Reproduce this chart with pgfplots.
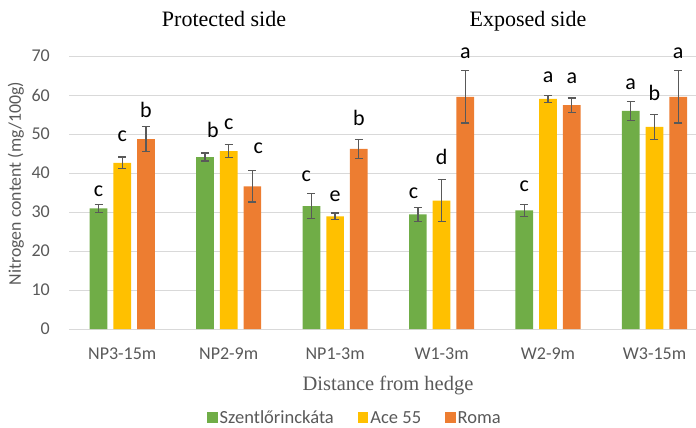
\documentclass[border=0pt]{standalone}
\usepackage{fontspec}
\setmainfont{Liberation Serif}
\newfontfamily\carlito{Carlito}
\usepackage{pgfplots}
\usepackage{pgfplotstable}
\pgfplotsset{compat=1.18}
\definecolor{cGreen}{HTML}{70AD47}
\definecolor{cYellow}{HTML}{FFC000}
\definecolor{cOrange}{HTML}{ED7D31}
\definecolor{cGrid}{HTML}{D9D9D9}
\definecolor{cText}{HTML}{595959}
\definecolor{cErr}{HTML}{595959}

\pgfplotstableread{
x y err
0 30.9 0.95
1 44.1 1.0
2 31.5 3.2
3 29.4 1.8
4 30.4 1.6
5 55.9 2.4
}\green
\pgfplotstableread{
x y err
0 42.6 1.5
1 45.6 1.7
2 28.9 0.85
3 32.9 5.4
4 59.0 0.95
5 51.8 3.2
}\yellow
\pgfplotstableread{
x y err
0 48.7 3.2
1 36.6 4.0
2 46.2 2.4
3 59.5 6.7
4 57.4 1.8
5 59.5 6.7
}\orange
\pgfplotstableread{
x y lab
-0.223 34.1 c
0 48.2 c
0.223 54.2 b
0.852 49.1 b
1 51.2 c
1.279 45.0 c
1.730 37.8 c
2 32.6 e
2.223 52.3 b
2.737 33.4 c
3 42.2 d
3.223 69.4 a
3.777 35.2 c
4 63.3 a
4.223 63.0 a
4.777 61.5 a
5 58.5 b
5.223 69.4 a
}\labels

\pgfplotsset{
  errstyle/.style={error bars/.cd, y dir=both, y explicit,
    error bar style={draw=cErr, line width=1.3bp},
    error mark options={draw=cErr, rotate=90, mark size=4bp, line width=1.3bp}},
}

\begin{document}
\begin{tikzpicture}
\useasboundingbox (0,0) rectangle (696bp,428bp);
\begin{axis}[
  at={(69bp,99bp)}, anchor=south west,
  scale only axis, width=627bp, height=273bp,
  xmin=-0.5, xmax=5.39, ymin=0, ymax=70,
  ytick={0,10,...,70},
  xtick={0,1,2,3,4,5},
  xticklabels={NP3-15m,NP2-9m,NP1-3m,W1-3m,W2-9m,W3-15m},
  major tick length=0pt,
  axis lines*=left,
  y axis line style={draw=none},
  x axis line style={draw=cGrid, line width=1bp, -},
  ymajorgrids, grid style={draw=cGrid, line width=1bp},
  /pgf/number format/assume math mode=true,
  tick label style={font=\carlito\fontsize{18bp}{18bp}\selectfont, text=cText},
  yticklabel style={anchor=east, inner sep=0pt, xshift=-19bp},
  xticklabel style={anchor=base, inner sep=0pt, yshift=-30bp},
  clip=false,
  legend style={at={(0.456,-0.326)}, anchor=center, draw=none, fill=none,
    legend columns=3, font=\carlito\fontsize{18.5bp}{18.5bp}\selectfont, text=cText,
    /tikz/every even column/.append style={column sep=22bp},
    inner sep=0pt},
  legend image code/.code={\fill[#1] (0bp,-5.5bp) rectangle (10.6bp,5.5bp);},
]
\addplot[ybar, bar width=17.7bp, bar shift=0bp, fill=cGreen, draw=none, errstyle]
  table[x expr=\thisrow{x}-0.2226, y=y, y error=err] {\green};
\addlegendentry{Szentlőrinckáta}
\addplot[ybar, bar width=17.7bp, bar shift=0bp, fill=cYellow, draw=none, errstyle]
  table[x=x, y=y, y error=err] {\yellow};
\addlegendentry{Ace 55}
\addplot[ybar, bar width=17.7bp, bar shift=0bp, fill=cOrange, draw=none, errstyle]
  table[x expr=\thisrow{x}+0.2226, y=y, y error=err] {\orange};
\addlegendentry{Roma}
\addplot[draw=none, mark=none, forget plot, nodes near coords,
  point meta=explicit symbolic,
  nodes near coords style={anchor=base, inner sep=0pt, text=black,
    font=\carlito\fontsize{22bp}{22bp}\selectfont}]
  table[x=x, y=y, meta=lab] {\labels};
\end{axis}
\node[anchor=base, font=\fontsize{22bp}{22bp}\selectfont, text=black] at (224bp,401.3bp) {Protected side};
\node[anchor=base, font=\fontsize{22bp}{22bp}\selectfont, text=black] at (528bp,401.3bp) {Exposed side};
\node[anchor=base, font=\fontsize{20.5bp}{20.5bp}\selectfont, text=cText] at (388bp,38bp) {Distance from hedge};
\node[rotate=90, anchor=center, font=\carlito\fontsize{17.8bp}{17.8bp}\selectfont, text=cText] at (16bp,244.6bp) {Nitrogen content (mg/100g)};
\end{tikzpicture}
\end{document}
